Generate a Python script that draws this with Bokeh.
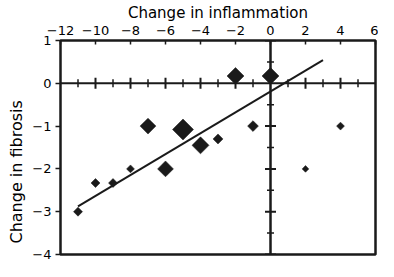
import numpy as np
from bokeh.plotting import figure
from bokeh.models import Range1d, FixedTicker, Span, Title
from bokeh.embed import file_html
from bokeh.resources import INLINE

# ---- data ----
inflammation = [-11, -10, -9, -8, -7, -6, -5, -4, -3, -2, -1, 0, 2, 4]
fibrosis = [-3.0, -2.33, -2.33, -2.0, -1.0, -2.0, -1.08, -1.45, -1.3, 0.17, -1.0, 0.17, -2.0, -1.0]
study_weight = [9, 9, 9, 7, 28, 28, 49, 32, 11, 32, 13, 32, 5, 7]

fit_x = [-11, 3]
fit_intercept = -0.19
fit_slope = 0.244

x_ticks = [-12, -10, -8, -6, -4, -2, 0, 2, 4, 6]
y_ticks = [-4, -3, -2, -1, 0, 1]
h_major = [-10, -8, -6, -4, -2, 2, 4]
h_minor = [-11, -9, -7, -5, -3, -1, 1, 3, 5]
v_major = [-4, -3, -2, -1, 1]
v_minor = [-3.5, -2.5, -1.5, -0.5, 0.5]

INK = "#1a1a1a"
FONT = "DejaVu Sans"

p = figure(width=378, height=261, x_range=Range1d(-12, 6), y_range=Range1d(-4, 1),
           x_axis_location="above", output_backend="svg", toolbar_location=None,
           min_border_left=54, min_border_right=3, min_border_bottom=7, min_border_top=0)
p.grid.visible = False
p.outline_line_color = INK
p.outline_line_width = 2.5
p.background_fill_color = "white"
p.border_fill_color = "white"

xa = p.xaxis[0]
xa.ticker = FixedTicker(ticks=x_ticks)
xa.axis_line_color = None
xa.major_tick_in = 4
xa.major_tick_out = 0
xa.major_tick_line_width = 1.5
xa.major_tick_line_color = INK
xa.minor_tick_line_color = None
xa.major_label_text_font = FONT
xa.major_label_text_font_size = "13px"
xa.major_label_text_color = "black"
xa.major_label_standoff = 6
xa.axis_label = "Change in inflammation"
xa.axis_label_text_font = FONT
xa.axis_label_text_font_size = "15px"
xa.axis_label_text_font_style = "normal"
xa.axis_label_text_color = "black"
xa.axis_label_standoff = 1

ya = p.yaxis[0]
ya.ticker = FixedTicker(ticks=y_ticks)
ya.axis_line_color = None
ya.major_tick_in = 0
ya.major_tick_out = 5
ya.major_tick_line_width = 1.5
ya.major_tick_line_color = INK
ya.minor_tick_line_color = None
ya.major_label_text_font = FONT
ya.major_label_text_font_size = "13px"
ya.major_label_text_color = "black"
ya.major_label_standoff = 4

ylab = Title(text="Change in fibrosis", align="left", offset=11, standoff=8,
             text_font=FONT, text_font_size="16px", text_font_style="normal",
             text_color="black")
p.add_layout(ylab, "left")

p.add_layout(Span(location=0, dimension="width", line_color=INK, line_width=2, level="underlay"))
p.add_layout(Span(location=0, dimension="height", line_color=INK, line_width=2.5, level="underlay"))

p.scatter(h_major, [0] * len(h_major), marker="dash", angle=np.pi / 2, size=11,
          line_color=INK, line_width=2)
p.scatter(h_minor, [0] * len(h_minor), marker="dash", angle=np.pi / 2, size=8,
          line_color=INK, line_width=1.5)
p.scatter([0] * len(v_major), v_major, marker="dash", size=11, line_color=INK, line_width=2)
p.scatter([0] * len(v_minor), v_minor, marker="dash", size=7, line_color=INK, line_width=1.5)

fit_y = [fit_intercept + fit_slope * x for x in fit_x]
p.line(fit_x, fit_y, line_color=INK, line_width=2)

sizes = [3 * np.sqrt(w) / np.sqrt(2) for w in study_weight]
p.scatter(inflammation, fibrosis, size=sizes, marker="square", angle=np.pi / 4,
          fill_color=INK, line_color=INK, line_width=0.5)

open("out.html", "w").write(file_html(p, INLINE))
